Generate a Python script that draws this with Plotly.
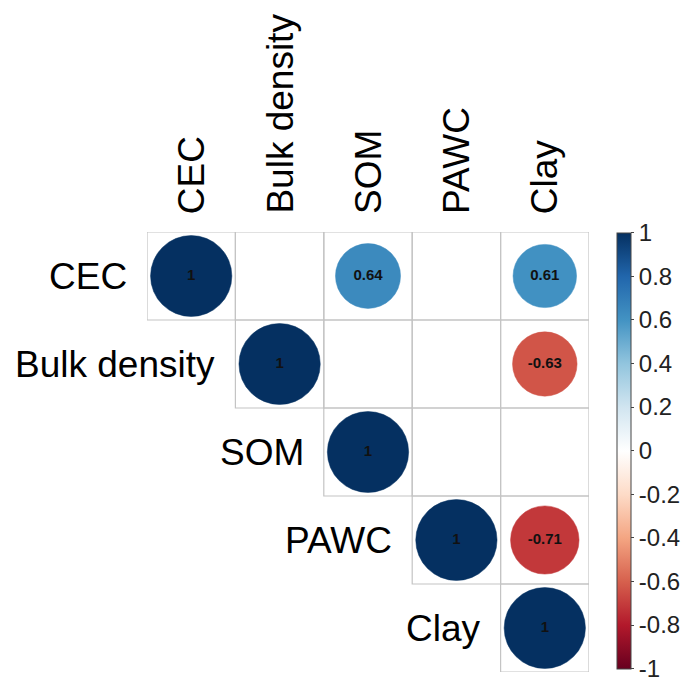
import plotly.graph_objects as go
from plotly.colors import sample_colorscale
import math

# Variables (order of rows and columns)
variables = ["CEC", "Bulk density", "SOM", "PAWC", "Clay"]

# Significant correlations in the upper triangle (None = not significant, left blank)
corr = [
    [1.00, None, 0.64, None, 0.61],
    [None, 1.00, None, None, -0.63],
    [None, None, 1.00, None, None],
    [None, None, None, 1.00, -0.71],
    [None, None, None, None, 1.00],
]

colorbar_ticks = [1, 0.8, 0.6, 0.4, 0.2, 0, -0.2, -0.4, -0.6, -0.8, -1]

# Diverging red-blue palette (-1 .. 1)
palette = ["#67001F", "#B2182B", "#D6604D", "#F4A582", "#FDDBC7", "#FFFFFF",
           "#D1E5F0", "#92C5DE", "#4393C3", "#2166AC", "#053061"]
colorscale = [[i / (len(palette) - 1), c] for i, c in enumerate(palette)]

FONT = "Liberation Sans, Arial, sans-serif"
n = len(variables)

fig = go.Figure()
shapes = []
annotations = []

xs, ys, vals, texts = [], [], [], []
for i in range(n):
    for j in range(i, n):
        # grid cell for the upper triangle
        shapes.append(dict(type="rect", xref="x", yref="y",
                           x0=j + 0.5, x1=j + 1.5, y0=i + 0.5, y1=i + 1.5,
                           line=dict(color="#c4c4c4", width=1.2),
                           fillcolor="rgba(0,0,0,0)", layer="below"))
for i in range(n):
    for j in range(i, n):
        r = corr[i][j]
        if r is None:
            continue
        rad = 0.46 * math.sqrt(abs(r))
        col = sample_colorscale(colorscale, [(r + 1) / 2])[0]
        shapes.append(dict(type="circle", xref="x", yref="y",
                           x0=j + 1 - rad, x1=j + 1 + rad,
                           y0=i + 1 - rad, y1=i + 1 + rad,
                           line=dict(color=col, width=0.5), fillcolor=col,
                           layer="below"))
        xs.append(j + 1)
        ys.append(i + 1)
        vals.append(r)
        texts.append("<b>%g</b>" % r)

# coefficient labels + colour bar
fig.add_trace(go.Scatter(
    x=xs, y=ys, mode="markers+text", text=texts,
    textposition="middle center",
    textfont=dict(family=FONT, size=15, color="#111111"),
    marker=dict(size=1, opacity=0, color=vals, cmin=-1.0001, cmax=1.0001,
                colorscale=colorscale, showscale=True,
                colorbar=dict(
                    thickness=14, len=0.99, lenmode="fraction",
                    x=1.0633, xanchor="left", xpad=0,
                    y=0.503, yanchor="middle", ypad=0,
                    outlinewidth=1, outlinecolor="#444444",
                    tickmode="array",
                    tickvals=colorbar_ticks,
                    ticktext=["%g" % t for t in colorbar_ticks],
                    ticks="outside", ticklen=3, tickcolor="#444444",
                    ticklabeloverflow="allow",
                    tickfont=dict(family=FONT, size=24, color="#222222"),
                )),
    hoverinfo="skip", showlegend=False,
))

# row labels next to the first cell of each row
for i, name in enumerate(variables):
    annotations.append(dict(x=i + 0.5, y=i + 1, xref="x", yref="y",
                            text=name, showarrow=False, xanchor="right",
                            yanchor="middle", xshift=-18,
                            font=dict(family=FONT, size=37, color="#000000")))
# column labels above the grid
for j, name in enumerate(variables):
    annotations.append(dict(x=j + 1, y=0.5, xref="x", yref="y",
                            text=name, showarrow=False, textangle=-90,
                            xanchor="center", yanchor="bottom", yshift=16,
                            font=dict(family=FONT, size=37, color="#000000")))

fig.update_layout(
    width=686, height=682,
    margin=dict(l=147, r=97, t=232, b=10, autoexpand=False),
    paper_bgcolor="white", plot_bgcolor="white",
    shapes=shapes, annotations=annotations,
    xaxis=dict(range=[0.5, n + 0.5], visible=False, fixedrange=True),
    yaxis=dict(range=[n + 0.5, 0.5], visible=False, fixedrange=True),
)

fig.write_html("out.html")
